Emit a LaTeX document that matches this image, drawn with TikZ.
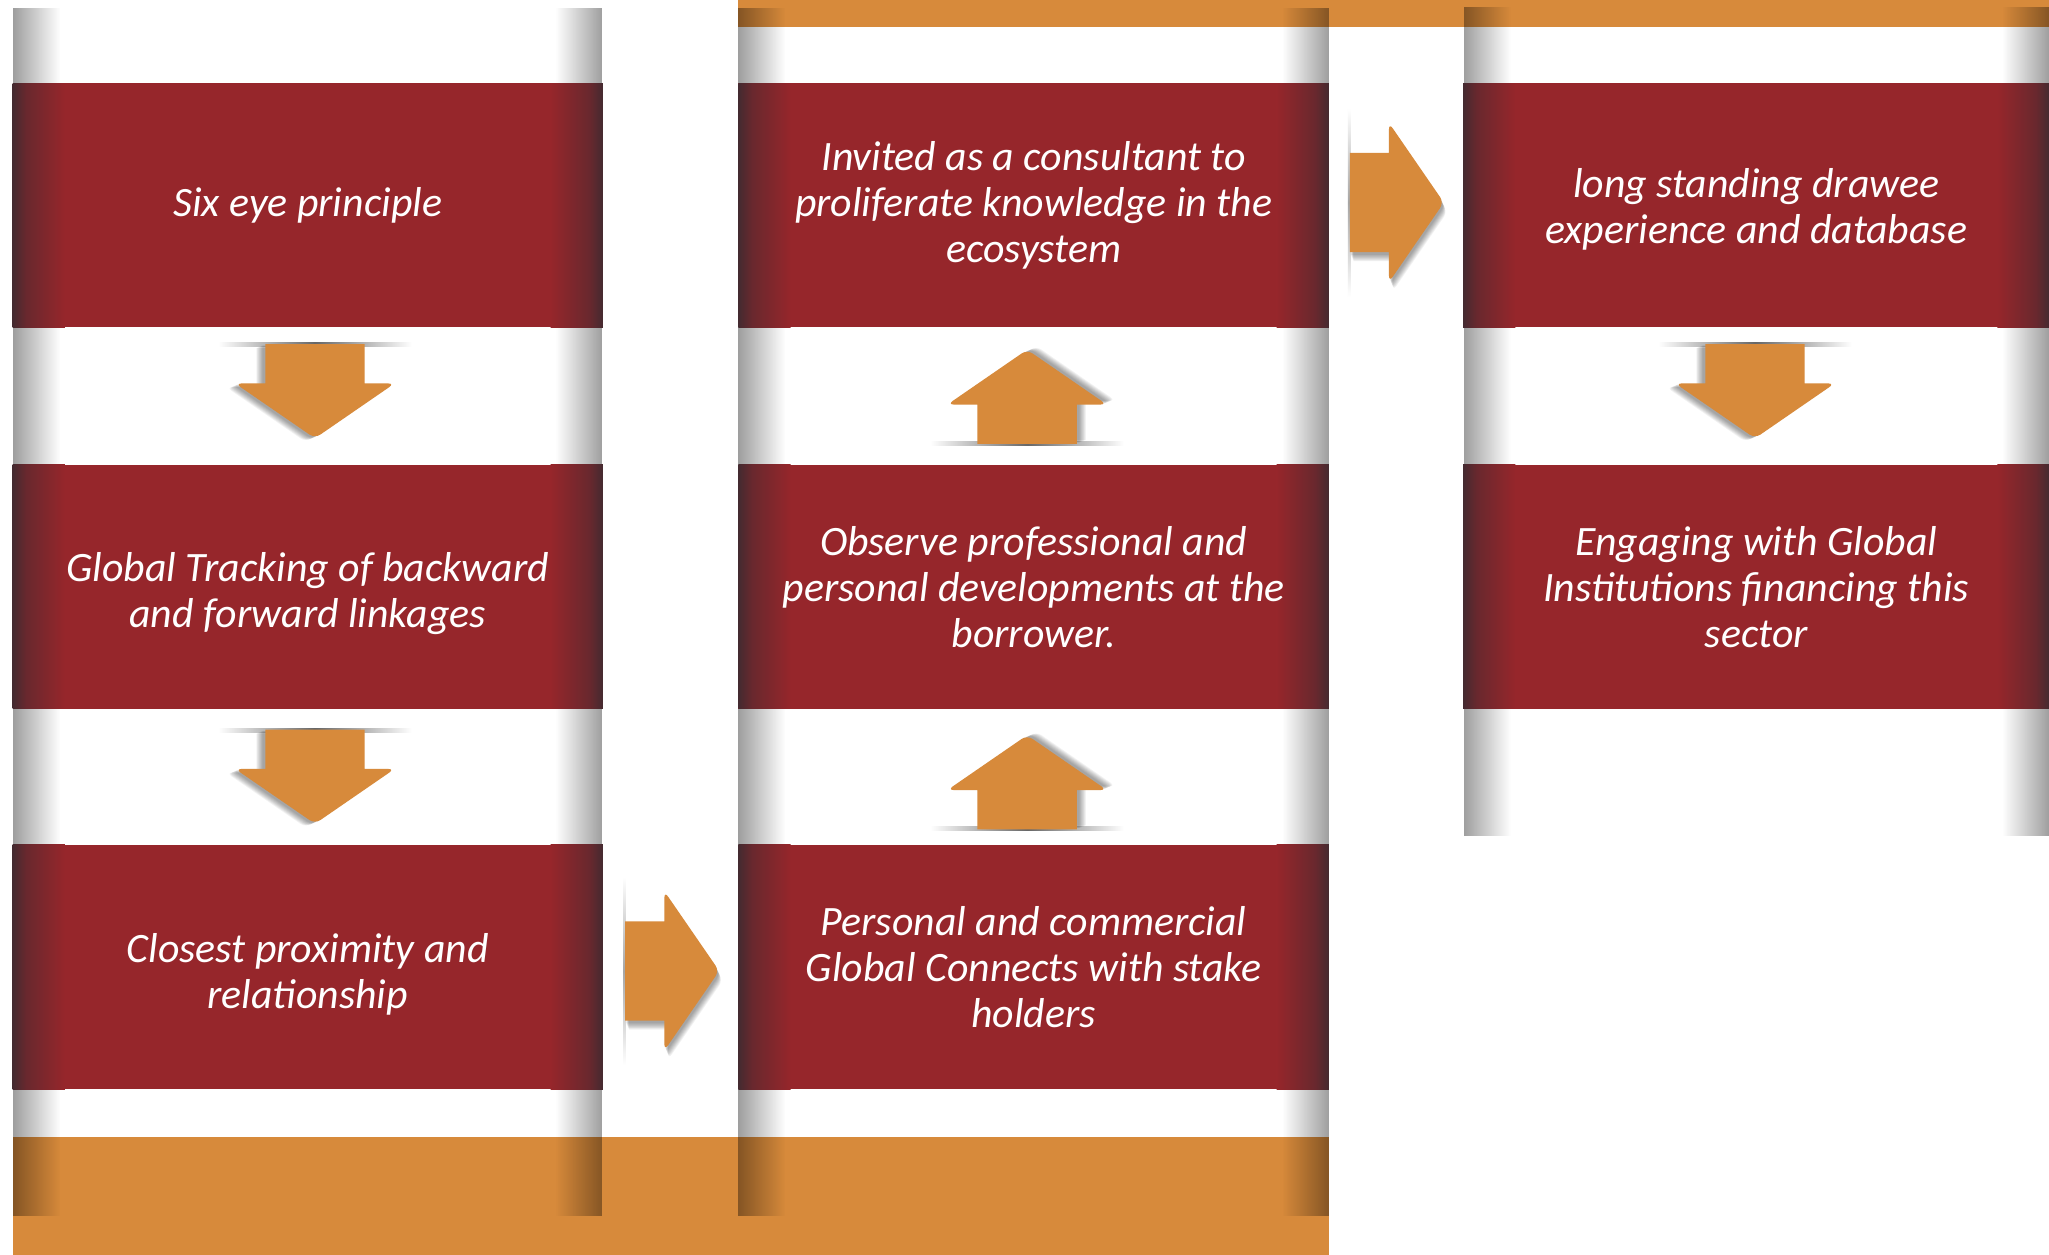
\documentclass[tikz,border=0pt]{standalone}
\usepackage{fontspec}
\setmainfont{Carlito}
\usetikzlibrary{calc,fadings}
\definecolor{cred}{RGB}{150,38,43}
\definecolor{corange}{RGB}{215,138,59}
\definecolor{cdark}{RGB}{68,42,48}
\colorlet{cmid}{cdark!55!cred}
\pgfdeclarehorizontalshading{redL}{100bp}{color(0bp)=(cdark); color(25bp)=(cdark); color(38bp)=(cmid); color(75bp)=(cred); color(100bp)=(cred)}
\pgfdeclarehorizontalshading{redR}{100bp}{color(0bp)=(cred); color(25bp)=(cred); color(62bp)=(cmid); color(75bp)=(cdark); color(100bp)=(cdark)}
\pgfdeclarelayer{bgzero}
\pgfdeclarelayer{bgone}
\pgfsetlayers{bgzero,bgone,main}
\newcommand\pushdown{\rule{0pt}{16.5pt}}
\begin{document}
\begin{tikzpicture}[x=0.5pt,y=-0.5pt,
  box/.style={rectangle, inner sep=0pt, minimum height=93pt,
    minimum width=225.5pt, text=white, align=center,
    font=\itshape\fontsize{16}{17.6}\selectfont},
  edgeL/.style={black, opacity=0.38, path fading=east},
  edgeR/.style={black, opacity=0.38, path fading=west},
  baseline/.style={left color=white, right color=white, middle color=black!60},
  blockarrow/.pic={
    \foreach \k in {0,...,7}{
      \fill[black, opacity=0.05, shift={(0.8+0.3*\k,2+0.7*\k)}]
        (0,-38) -- (30,-38) [rounded corners=2.5pt] -- (30,-61) -- (72,0) -- (30,61) [sharp corners] -- (30,38) -- (0,38) -- cycle;
    }
    \fill[corange]
      (0,-38) -- (30,-38) [rounded corners=2.5pt] -- (30,-61) -- (72,0) -- (30,61) [sharp corners] -- (30,38) -- (0,38) -- cycle;
  }
]
\useasboundingbox (0,0) rectangle (1568,960);

\begin{pgfonlayer}{bgzero}
\fill[white] (0,0) rectangle (1568,960);
% orange bars
\fill[corange] (565,0) rectangle (1568,21);
\fill[corange] (10,870) rectangle (1017,960);
% column edge shadows
\foreach \xl/\xr/\yb in {10/461/930, 565/1017/930, 1120/1568/640}{
  \fill[edgeL] (\xl,5) rectangle (\xl+36,\yb);
  \fill[edgeR] (\xr-36,5) rectangle (\xr,\yb);
}
\end{pgfonlayer}

% boxes
\node[box] (b11) at (235.5,157) {Six eye principle};
\node[box] (b12) at (235.5,449) {\pushdown Global Tracking of backward\\and forward linkages};
\node[box] (b13) at (235.5,740) {\pushdown Closest proximity and\\relationship};
\node[box] (b21) at (791,157) {Invited as a consultant to\\proliferate knowledge in the\\ecosystem};
\node[box] (b22) at (791,449) {Observe professional and\\personal developments at the\\borrower.};
\node[box] (b23) at (791,740) {Personal and commercial\\Global Connects with stake\\holders};
\node[box, minimum width=224pt] (b31) at (1344,157) {\rule{0pt}{14pt}long standing drawee\\experience and database};
\node[box, minimum width=224pt] (b32) at (1344,449) {Engaging with Global\\Institutions financing this\\sector};

% red fills with darkened edges
\begin{pgfonlayer}{bgone}
\foreach \n in {b11,b12,b13,b21,b22,b23,b31,b32}{
  \fill[cred] (\n.south west) rectangle (\n.north east);
  \shade[shading=redL] (\n.south west) rectangle ($(\n.north west)+(40,0)$);
  \shade[shading=redR] ($(\n.south east)+(-40,0)$) rectangle (\n.north east);
}
\end{pgfonlayer}

% arrow anchors
\coordinate (d1) at ($(b11.south)+(5.5,13)$);
\coordinate (d2) at ($(b12.south)+(5.5,16)$);
\coordinate (d3) at ($(b31.south)+(-1,13)$);
\coordinate (u1) at ($(b22.north)+(-5,-16)$);
\coordinate (u2) at ($(b23.north)+(-5,-12)$);
\coordinate (r1) at ($(b13.east)+(17,3)$);
\coordinate (r2) at ($(b21.east)+(16,-2)$);

% base lines
\foreach \c in {d1,d2,d3}{
  \shade[baseline] ($(\c)+(-74,-1)$) rectangle ($(\c)+(74,2)$);
}
\foreach \c in {u1,u2}{
  \shade[baseline] ($(\c)+(-74,-2)$) rectangle ($(\c)+(74,1)$);
}
\foreach \c in {r1,r2}{
  \shade[top color=white, bottom color=white, middle color=black!35] ($(\c)+(-1.5,-72)$) rectangle ($(\c)+(0.5,72)$);
}

% block arrows
\path (d1) pic[rotate=-90] {blockarrow};
\path (d2) pic[rotate=-90] {blockarrow};
\path (d3) pic[rotate=-90] {blockarrow};
\path (u1) pic[rotate=90] {blockarrow};
\path (u2) pic[rotate=90] {blockarrow};
\path (r1) pic {blockarrow};
\path (r2) pic {blockarrow};
\end{tikzpicture}
\end{document}
